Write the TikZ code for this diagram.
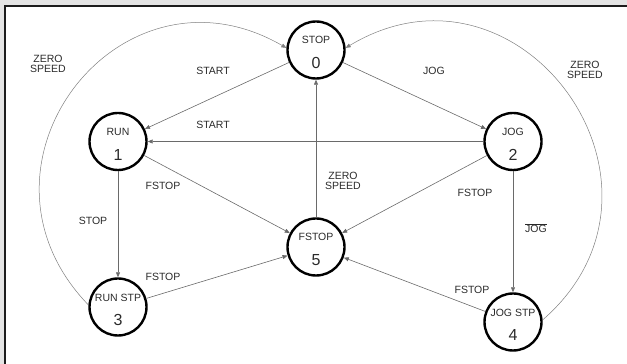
\documentclass[tikz,border=0pt]{standalone}
\usepackage{fontspec}
\setmainfont{Liberation Sans}
\usetikzlibrary{arrows.meta}
\definecolor{txt}{HTML}{2A2A2A}
\definecolor{edge}{HTML}{6A6A6A}
\definecolor{band}{HTML}{E4E4E4}
\definecolor{frame}{HTML}{1C1C1C}
\begin{document}
\begin{tikzpicture}[x=1pt,y=1pt,
  statebox/.style={circle,draw=black,line width=2.4pt,minimum size=57pt,inner sep=0pt},
  sname/.style={font=\fontsize{10.5}{12}\selectfont,text=txt,inner sep=0pt},
  snum/.style={font=\fontsize{16}{18}\selectfont,text=txt,inner sep=0pt},
  elabel/.style={font=\fontsize{10.5}{9.5}\selectfont,text=txt,align=center,inner sep=0pt},
  conn/.style={draw=edge,line width=0.6pt,-{Triangle[length=5pt,width=4pt]}},
  arcconn/.style={draw=edge!85,line width=0.5pt,-{Triangle[length=5pt,width=4pt]}}]
\useasboundingbox (0,0) rectangle (627,364);
% frame
\fill[band] (0,358) rectangle (627,364);
\fill[band] (0,0) rectangle (4,364);
\draw[frame,line width=2.4pt] (5,0) -- (5,358) -- (627,358);
% states
\node[statebox] (n0) at (316,314) {};
\node[statebox] (n1) at (118,222.5) {};
\node[statebox] (n2) at (513,222.5) {};
\node[statebox] (n3) at (118,57) {};
\node[statebox] (n4) at (513,42) {};
\node[statebox] (n5) at (316,117) {};
% state texts
\node[sname] (t0) at ([yshift=10pt]n0.center) {STOP};
\node[snum]  (d0) at ([yshift=-13pt]n0.center) {0};
\node[sname] (t1) at ([yshift=10pt]n1.center) {RUN};
\node[snum]  (d1) at ([yshift=-13pt]n1.center) {1};
\node[sname] (t2) at ([yshift=10pt]n2.center) {JOG};
\node[snum]  (d2) at ([yshift=-13pt]n2.center) {2};
\node[sname] (t3) at ([yshift=9pt]n3.center) {RUN STP};
\node[snum]  (d3) at ([yshift=-13pt]n3.center) {3};
\node[sname] (t4) at ([yshift=9pt]n4.center) {JOG STP};
\node[snum]  (d4) at ([yshift=-13pt]n4.center) {4};
\node[sname] (t5) at ([yshift=10pt]n5.center) {FSTOP};
\node[snum]  (d5) at ([yshift=-13pt]n5.center) {5};
% connectors
\draw[conn] (n0) -- (n1);
\draw[conn] (n0) -- (n2);
\draw[conn] (n2.west) -- (n1.east);
\draw[conn] (n1) -- (n5);
\draw[conn] (n5) -- (n0);
\draw[conn] (n2) -- (n5);
\draw[conn] (n1) -- (n3);
\draw[conn] (n2) -- (n4);
\draw[conn] (n3) -- (n5);
\draw[conn] (n4) -- (n5);
\draw[arcconn] (n3.176) to[out=134,in=150,looseness=1.52] (n0.176);
\draw[arcconn] (n4.4) to[out=41,in=31,looseness=1.56] (n0.4);
% edge labels
\node[elabel] (l01) at (213,293) {START};
\node[elabel] (l02) at (434,293) {JOG};
\node[elabel] (l21) at (213,239) {START};
\node[elabel] (l15) at (163,178) {FSTOP};
\node[elabel] (l50) at (343,183) {ZERO\\SPEED};
\node[elabel] (l25) at (475,171) {FSTOP};
\node[elabel] (l13) at (93,143) {STOP};
\node[elabel] (l24) at (536,136) {$\overline{\hbox{JOG}}$};
\node[elabel] (l35) at (163,87) {FSTOP};
\node[elabel] (l45) at (472,74) {FSTOP};
\node[elabel] (l30) at (48,300) {ZERO\\SPEED};
\node[elabel] (l40) at (585,294) {ZERO\\SPEED};
\end{tikzpicture}
\end{document}
